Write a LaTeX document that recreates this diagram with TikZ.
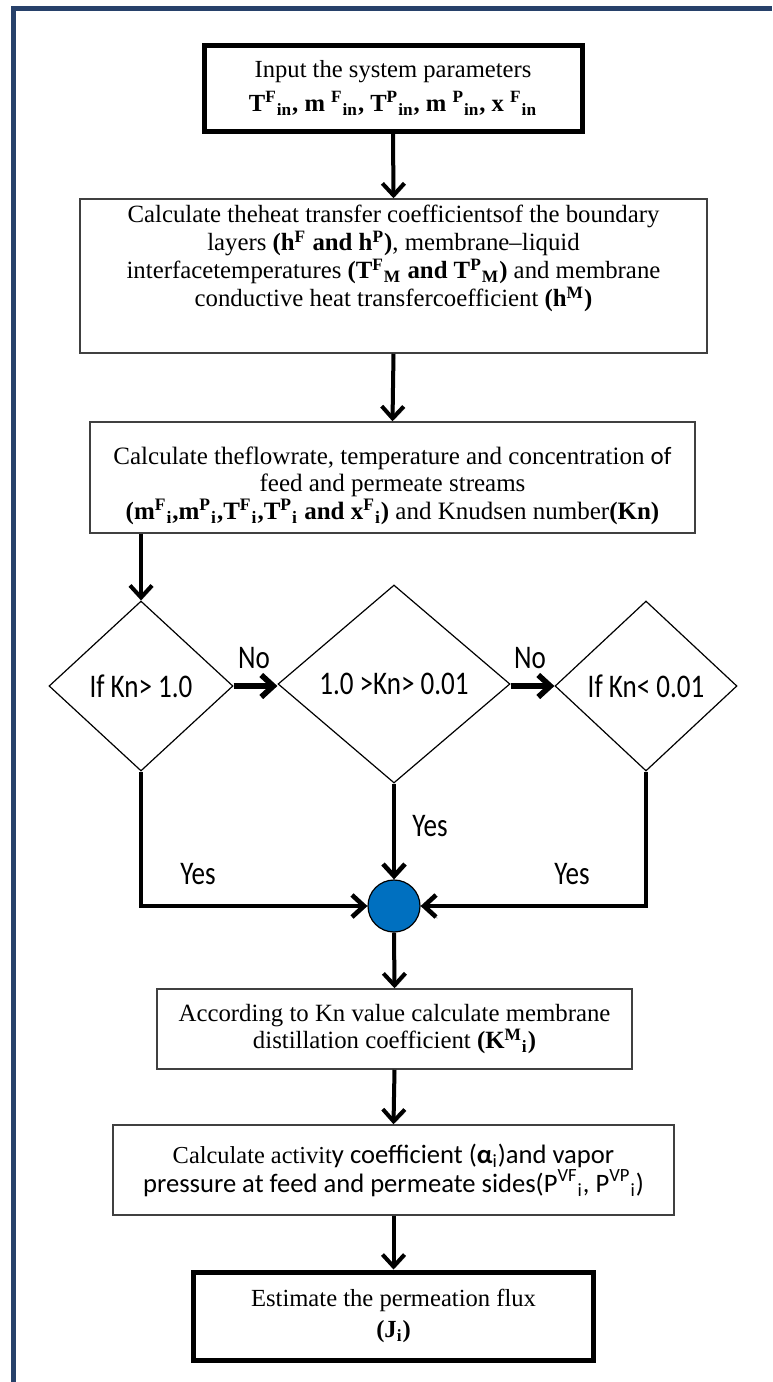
\documentclass[tikz,border=0pt]{standalone}
\usepackage{fontspec}
\setmainfont{Liberation Serif}
\newfontfamily\calfont{Carlito}
\newfontfamily\condfont[FakeStretch=0.82]{Carlito}
\usepackage{tikz}
\usetikzlibrary{arrows.meta,shapes.geometric}
\definecolor{framecol}{HTML}{27416A}
\definecolor{joinblue}{HTML}{0070C0}
\newcommand{\supsub}[3]{#1\textsuperscript{#2}\textsubscript{#3}}
\tikzset{
    procnode/.style = {
        align=center,
        rectangle,
        draw=black!75,
        line width=0.75pt,
        inner sep=1mm,
        font=\fontsize{12.4}{14}\selectfont
    },
    termnode/.style = {
        procnode,
        draw=black,
        line width=2.5pt,
        font=\fontsize{12.3}{17}\selectfont
    },
    decnode/.style = {
        diamond,
        draw=black,
        line width=0.6pt,
        inner sep=0pt,
        font=\condfont\fontsize{16.5}{18}\selectfont
    },
    joinnode/.style = {
        circle,
        draw=black,
        line width=0.6pt,
        fill=joinblue,
        minimum size=26pt,
        inner sep=0pt
    },
    lblnode/.style = {
        inner sep=0pt,
        font=\condfont\fontsize{16.5}{18}\selectfont
    },
    shadowed/.style = {
        preaction={draw=black!30, transform canvas={shift={(0.7pt,-0.7pt)}}}
    },
    flowline/.style = {
        line width=2pt,
        -{Straight Barb[length=6pt,width=11pt]},
        shadowed
    },
    noline/.style = {
        flowline,
        line width=2.8pt
    },
    yesline/.style = {
        flowline,
        line width=2.3pt
    }
}
\begin{document}
\begin{tikzpicture}[x=0.5pt,y=-0.5pt]
    \useasboundingbox (0,0) rectangle (772,1382);
    \draw[framecol, line width=2.5pt] (13,1382) -- (13,8) -- (772,8);

    % process boxes
    \node [termnode, minimum width=189pt, minimum height=43pt] (input) at (393,88)
        {Input the system parameters\\
        \textbf{\supsub{T}{F}{in}, \supsub{m }{F}{in}, \supsub{T}{P}{in}, \supsub{m }{P}{in}, \supsub{x }{F}{in}}};
    \node [procnode, minimum width=313.5pt, minimum height=77pt] (heat) at (393.5,276)
        {Calculate theheat transfer coefficientsof the boundary\\
        layers \textbf{(h\textsuperscript{F} and h\textsuperscript{P})}, membrane--liquid\\
        interfacetemperatures \textbf{(\supsub{T}{F}{M} and \supsub{T}{P}{M})} and membrane\\
        conductive heat transfercoefficient \textbf{(h\textsuperscript{M})}\rule[-20pt]{0pt}{1pt}};
    \node [procnode, minimum width=302.5pt, minimum height=55.5pt,
        font=\fontsize{12.5}{13.8}\selectfont] (flow) at (392.5,477.5)
        {\rule{0pt}{17pt}Calculate theflowrate, temperature and concentration {\calfont of}\\
        feed and permeate streams\\
        \textbf{(\supsub{m}{F}{i},\supsub{m}{P}{i},\supsub{T}{F}{i},\supsub{T}{P}{i} and \supsub{x}{F}{i})} and Knudsen number\textbf{(Kn)}};

    % Knudsen tests
    \node [decnode, minimum width=92pt, minimum height=85pt] (kn1) at (141,686) {If Kn> 1.0};
    \node [decnode, minimum width=116pt, minimum height=99pt] (kn2) at (394,684) {1.0 >Kn> 0.01};
    \node [decnode, minimum width=91pt, minimum height=85pt] (kn3) at (646,686) {If Kn< 0.01};
    \node [joinnode] (join) at (394,906) {};

    \node [procnode, minimum width=237.5pt, minimum height=40pt,
        font=\fontsize{12.4}{13.8}\selectfont] (coef) at (394.5,1029)
        {According to Kn value calculate membrane\\
        distillation coefficient \textbf{(\supsub{K}{M}{i})}};
    \node [procnode, minimum width=280.5pt, minimum height=45pt,
        font=\fontsize{12.2}{14.5}\selectfont] (act) at (393.5,1170)
        {Calculate activit{\calfont\fontsize{13.3}{14.5}\selectfont y coefficient (\textbf{α}\textsubscript{i})and vapor}\\
        {\calfont\fontsize{13.3}{14.5}\selectfont pressure at feed and permeate sides(\supsub{P}{VF}{i}, \supsub{P}{VP}{i})}};
    \node [termnode, minimum width=200pt, minimum height=44pt,
        font=\fontsize{12.3}{15.5}\selectfont] (flux) at (393.5,1316)
        {Estimate the permeation flux\\ \textbf{(J\textsubscript{i})}};

    % labels
    \node [lblnode] (no1) at (254,658) {No};
    \node [lblnode] (no2) at (530,658) {No};
    \node [lblnode] (yes1) at (198,874) {Yes};
    \node [lblnode] (yes2) at (430,826) {Yes};
    \node [lblnode] (yes3) at (572,874) {Yes};

    % connectors
    \draw [flowline] (input.south) -- (heat.north);
    \draw [flowline] (heat.south) -- (flow.north);
    \draw [flowline] (kn1.north |- flow.south) -- (kn1.north);
    \draw [noline] (kn1.east) -- (kn2.west |- kn1.east);
    \draw [noline] (kn2.east |- kn3.west) -- (kn3.west);
    \draw [yesline] (kn1.south) |- (join.west);
    \draw [yesline] (kn2.south) -- (join.north);
    \draw [yesline] (kn3.south) |- (join.east);
    \draw [flowline] (join.south) -- (coef.north);
    \draw [flowline] (coef.south) -- (act.north);
    \draw [flowline] (act.south) -- (flux.north);
\end{tikzpicture}
\end{document}
